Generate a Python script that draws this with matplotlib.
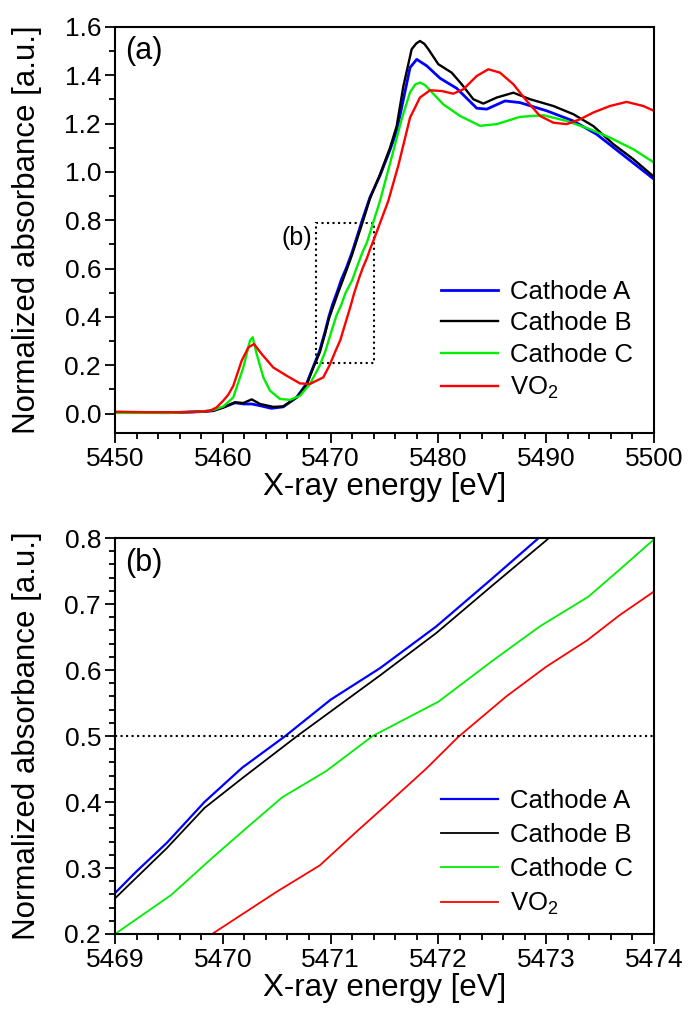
import matplotlib
matplotlib.use("Agg")
import matplotlib.pyplot as plt
from matplotlib.ticker import MultipleLocator
from matplotlib.patches import Rectangle

plt.rcParams['font.family'] = ['Liberation Sans', 'DejaVu Sans']
plt.rcParams['mathtext.default'] = 'regular'

# V K-edge XANES (energy in eV, normalized absorbance)
e_a = [5450, 5455, 5457.9, 5459.1, 5460.05, 5461.13, 5461.9, 5462.68, 5463.45,
       5464.5, 5465.6, 5466.85, 5467.78, 5468.4, 5469.0, 5469.2, 5469.48,
       5469.83, 5470.18, 5470.58, 5471.0, 5471.46, 5471.98, 5472.48, 5472.93,
       5473.65, 5474.58, 5475.5, 5476.13, 5476.75, 5477.37, 5477.99, 5478.92,
       5480.15, 5481.7, 5483.55, 5484.48, 5486.18, 5487.57, 5490.05, 5492.52,
       5494.68, 5496.85, 5500]
mu_a = [0.005, 0.004, 0.008, 0.012, 0.026, 0.045, 0.040, 0.040, 0.033,
        0.022, 0.028, 0.067, 0.125, 0.195, 0.262, 0.295, 0.338,
        0.400, 0.452, 0.500, 0.555, 0.603, 0.666, 0.736, 0.800,
        0.895, 0.985, 1.090, 1.170, 1.300, 1.432, 1.466, 1.439,
        1.388, 1.346, 1.264, 1.260, 1.294, 1.287, 1.253, 1.211,
        1.156, 1.080, 0.970]

e_b = [5450, 5455, 5457.9, 5459.1, 5460.05, 5461.13, 5461.9, 5462.68, 5463.45,
       5464.68, 5465.6, 5466.85, 5467.78, 5468.4, 5469.0, 5469.48, 5469.83,
       5470.18, 5470.69, 5471.46, 5471.98, 5472.5, 5472.99, 5473.65, 5474.58,
       5475.51, 5476.13, 5476.75, 5477.52, 5477.95, 5478.29, 5478.7, 5479.07,
       5479.99, 5481.23, 5482.16, 5483.24, 5484.17, 5485.41, 5486.95, 5488.5,
       5490.66, 5492.52, 5494.37, 5496.23, 5498.08, 5500]
mu_b = [0.005, 0.004, 0.008, 0.012, 0.026, 0.047, 0.044, 0.059, 0.040,
        0.028, 0.030, 0.067, 0.120, 0.191, 0.254, 0.330, 0.391,
        0.436, 0.500, 0.592, 0.656, 0.728, 0.795, 0.890, 0.990,
        1.100, 1.190, 1.355, 1.508, 1.532, 1.542, 1.530, 1.508,
        1.446, 1.411, 1.363, 1.301, 1.283, 1.308, 1.328, 1.301,
        1.273, 1.239, 1.190, 1.115, 1.053, 0.980]

e_c = [5450, 5455, 5457.9, 5459.1, 5460.05, 5460.97, 5461.9, 5462.52, 5462.77,
       5463.14, 5463.76, 5464.38, 5465.3, 5466.23, 5467.16, 5468.09, 5469.0,
       5469.52, 5469.9, 5470.18, 5470.55, 5470.96, 5471.39, 5472.0, 5472.51,
       5472.94, 5473.39, 5473.68, 5474.0, 5474.58, 5475.82, 5476.6, 5477.37,
       5477.85, 5478.29, 5478.75, 5479.22, 5480.45, 5482.0, 5483.86, 5485.41,
       5487.57, 5489.73, 5491.9, 5494.06, 5495.92, 5498.08, 5500]
mu_c = [0.003, 0.003, 0.008, 0.015, 0.030, 0.067, 0.191, 0.302, 0.316,
        0.247, 0.150, 0.095, 0.061, 0.057, 0.074, 0.123, 0.200,
        0.259, 0.315, 0.355, 0.407, 0.447, 0.500, 0.552, 0.615,
        0.666, 0.711, 0.752, 0.798, 0.880, 1.087, 1.220, 1.330,
        1.362, 1.370, 1.360, 1.338, 1.280, 1.232, 1.191, 1.198,
        1.228, 1.235, 1.211, 1.177, 1.142, 1.094, 1.039]

e_vo2 = [5450, 5453, 5456, 5457.9, 5458.8, 5459.4, 5460.05, 5460.5, 5460.97,
         5461.75, 5462.37, 5462.9, 5463.6, 5464.68, 5465.92, 5467.16, 5468.09,
         5469.32, 5469.9, 5470.5, 5470.9, 5471.24, 5471.52, 5471.89, 5472.18,
         5472.63, 5473.0, 5473.38, 5473.68, 5474.0, 5475.35, 5476.3, 5477.37,
         5478.29, 5479.22, 5480.3, 5481.38, 5482.31, 5483.55, 5484.63, 5485.71,
         5486.95, 5488.19, 5489.42, 5490.66, 5491.9, 5493.14, 5494.37, 5495.92,
         5497.46, 5499.0, 5500]
mu_vo2 = [0.008, 0.006, 0.006, 0.008, 0.012, 0.025, 0.054, 0.078, 0.115,
          0.219, 0.274, 0.288, 0.247, 0.191, 0.157, 0.125, 0.123,
          0.150, 0.200, 0.264, 0.304, 0.355, 0.396, 0.451, 0.498,
          0.560, 0.605, 0.645, 0.683, 0.719, 0.880, 1.030, 1.225,
          1.308, 1.338, 1.335, 1.324, 1.342, 1.397, 1.425, 1.411,
          1.363, 1.294, 1.232, 1.204, 1.198, 1.218, 1.246, 1.273,
          1.290, 1.273, 1.253]

series = [
    ('Cathode A', e_a, mu_a, '#0000ff'),
    ('Cathode B', e_b, mu_b, '#000000'),
    ('Cathode C', e_c, mu_c, '#00ee00'),
    ('VO$_2$', e_vo2, mu_vo2, '#ff0000'),
]

TICK_FS = 19
LABEL_FS = 22.5


def style_axes(ax):
    for sp in ax.spines.values():
        sp.set_linewidth(1.5)
    ax.tick_params(which='both', direction='out', top=False, right=False,
                   width=1.3, labelsize=TICK_FS, pad=3)
    ax.tick_params(which='major', length=7)
    ax.tick_params(which='minor', length=4)
    ax.set_xlabel('X-ray energy [eV]', fontsize=LABEL_FS, labelpad=1)
    ax.set_ylabel('Normalized absorbance [a.u.]', fontsize=LABEL_FS, labelpad=16)


def add_legend(ax, anchor, spacing):
    leg = ax.legend(loc='upper left', bbox_to_anchor=anchor, frameon=False,
                    fontsize=18.5, handlelength=2.2, handletextpad=0.5,
                    labelspacing=spacing, borderpad=0, borderaxespad=0)
    return leg


fig = plt.figure(figsize=(6.92, 10.14), dpi=100)

# (a) full edge
ax1 = fig.add_axes([0.1662, 0.5730, 0.7789, 0.4004])
for name, e, mu, col in series:
    ax1.plot(e, mu, color=col, lw=2.0 if name == 'Cathode A' else 1.7, label=name)
ax1.set_xlim(5450, 5500)
ax1.set_ylim(-0.08, 1.6)
ax1.xaxis.set_major_locator(MultipleLocator(10))
ax1.xaxis.set_minor_locator(MultipleLocator(2))
ax1.yaxis.set_major_locator(MultipleLocator(0.2))
ax1.yaxis.set_minor_locator(MultipleLocator(0.1))
ax1.yaxis.set_major_formatter(plt.FormatStrFormatter('%.1f'))
style_axes(ax1)
ax1.add_patch(Rectangle((5468.6, 0.21), 5.4, 0.58, fill=False,
                        ls=':', lw=1.5, ec='black'))
ax1.text(5468.3, 0.725, '(b)', ha='right', va='center', fontsize=18)
ax1.text(0.018, 0.94, '(a)', transform=ax1.transAxes, ha='left', va='center',
         fontsize=22)
add_legend(ax1, (0.605, 0.378), 0.3)

# (b) zoom on the edge
ax2 = fig.add_axes([0.1662, 0.0789, 0.7789, 0.3905])
for name, e, mu, col in series:
    ax2.plot(e, mu, color=col, lw=1.6 if name == 'Cathode A' else 1.3, label=name)
ax2.axhline(0.5, color='black', ls=':', lw=1.5)
ax2.set_xlim(5469, 5474)
ax2.set_ylim(0.2, 0.8)
ax2.xaxis.set_major_locator(MultipleLocator(1))
ax2.xaxis.set_minor_locator(MultipleLocator(0.2))
ax2.yaxis.set_major_locator(MultipleLocator(0.1))
ax2.yaxis.set_minor_locator(MultipleLocator(0.02))
ax2.yaxis.set_major_formatter(plt.FormatStrFormatter('%.1f'))
ax2.xaxis.set_major_formatter(plt.FormatStrFormatter('%d'))
style_axes(ax2)
ax2.text(0.018, 0.937, '(b)', transform=ax2.transAxes, ha='left', va='center',
         fontsize=22)
add_legend(ax2, (0.605, 0.365), 0.38)

fig.savefig('out.png', dpi=100)
